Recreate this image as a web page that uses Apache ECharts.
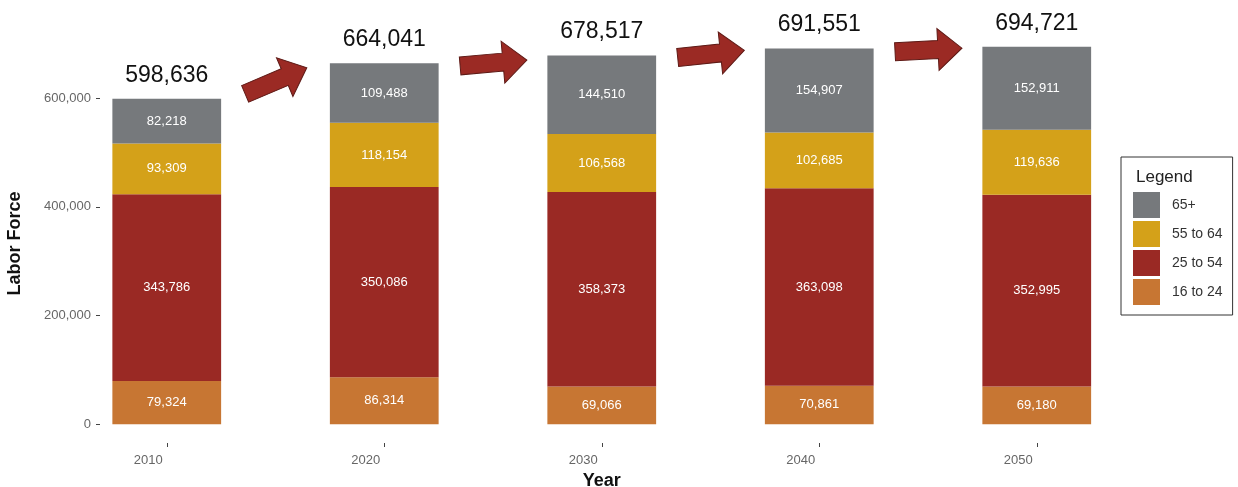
<!DOCTYPE html>
<html>
<head>
<meta charset="utf-8">
<script src="https://cdn.jsdelivr.net/npm/echarts@6/dist/echarts.min.js"></script>
<style>
  html, body { margin: 0; padding: 0; background: #fff; }
  #chart { width: 1238px; height: 487px; }
</style>
</head>
<body>
<div id="chart"></div>
<script>
const years = ['2010', '2020', '2030', '2040', '2050']
const age16to24 = [79324, 86314, 69066, 70861, 69180]
const age25to54 = [343786, 350086, 358373, 363098, 352995]
const age55to64 = [93309, 118154, 106568, 102685, 119636]
const age65plus = [82218, 109488, 144510, 154907, 152911]
const totals = [598636, 664041, 678517, 691551, 694721]
const yTicks = [0, 200000, 400000, 600000]

const fmt = v => v.toLocaleString('en-US')

const myChart = echarts.init(document.getElementById('chart'))

// shared look for the stacked segments
function segment(name, data, color) {
    return {
        name: name,
        type: 'bar',
        stack: 'lf',
        barWidth: '50%',
        data: data,
        itemStyle: { color: color },
        label: {
            show: true,
            position: 'inside',
            color: '#fff',
            fontSize: 13,
            fontFamily: 'Liberation Sans, Arial, sans-serif',
            formatter: p => fmt(p.value)
        }
    }
}

myChart.setOption({
    animation: false,
    textStyle: { fontFamily: 'Liberation Sans, Arial, sans-serif' },
    grid: { left: 58, right: 92.5, top: 43.8, bottom: 44, outerBoundsMode: 'none' },
    title: {
        text: 'Legend',
        left: 1131,
        top: 164,
        textStyle: { fontSize: 17, fontWeight: 'normal', color: '#222' }
    },
    legend: {
        orient: 'vertical',
        left: 1121,
        top: 157,
        padding: [35, 10, 10, 12],
        itemWidth: 27,
        itemHeight: 26,
        itemGap: 3,
        icon: 'rect',
        borderColor: '#333',
        borderWidth: 1,
        data: ['65+', '55 to 64', '25 to 54', '16 to 24'],
        textStyle: { fontSize: 14, color: '#333', padding: [0, 0, 0, 7] }
    },
    xAxis: {
        type: 'category',
        data: years,
        name: 'Year',
        nameLocation: 'middle',
        nameGap: 26,
        nameTextStyle: { fontSize: 18, fontWeight: 'bold', color: '#111' },
        axisLine: { show: false, onZero: false },
        axisTick: { show: true, alignWithLabel: true, length: 4, lineStyle: { color: '#444' } },
        axisLabel: { color: '#666', fontSize: 13, align: 'right', margin: 11, padding: [0, 4, 0, 0] }
    },
    yAxis: {
        type: 'value',
        min: -34736,
        max: 700000,
        offset: -42,
        name: 'Labor Force',
        nameLocation: 'middle',
        nameGap: 76,
        nameTextStyle: { fontSize: 18, fontWeight: 'bold', color: '#111' },
        splitLine: { show: false },
        axisLine: { show: false },
        axisTick: { show: true, length: 4, customValues: yTicks, lineStyle: { color: '#444' } },
        axisLabel: {
            color: '#666',
            fontSize: 13,
            margin: 9,
            customValues: yTicks,
            formatter: v => fmt(v)
        }
    },
    series: [
        segment('16 to 24', age16to24, '#c77633'),
        segment('25 to 54', age25to54, '#9a2924'),
        segment('55 to 64', age55to64, '#d4a119'),
        segment('65+', age65plus, '#76797c'),
        {
            name: 'total',
            type: 'bar',
            stack: 'lf',
            data: years.map(() => 0),
            itemStyle: { color: 'transparent' },
            label: {
                show: true,
                position: 'top',
                distance: 12,
                color: '#111',
                fontSize: 23,
                formatter: p => fmt(totals[p.dataIndex])
            }
        }
    ]
})

// arrows between the bars, placed midway between neighbouring categories
const arrowY = [81, 63, 54, 50]
const arrowAngle = [23, 5, 6, 3]
const arrows = []
for (let i = 0; i < years.length - 1; i++) {
    const a = myChart.convertToPixel({ xAxisIndex: 0 }, years[i])
    const b = myChart.convertToPixel({ xAxisIndex: 0 }, years[i + 1])
    arrows.push({
        type: 'polygon',
        x: (a + b) / 2,
        y: arrowY[i],
        rotation: arrowAngle[i] * Math.PI / 180,
        shape: {
            points: [[-33, -9], [10, -9], [10, -21], [34, 0], [10, 21], [10, 9], [-33, 9]]
        },
        style: { fill: '#9b2a24', stroke: '#5e1a16', lineWidth: 1 }
    })
}
myChart.setOption({ graphic: arrows })

window.addEventListener('resize', () => {
    myChart.resize()
})
</script>
</body>
</html>
